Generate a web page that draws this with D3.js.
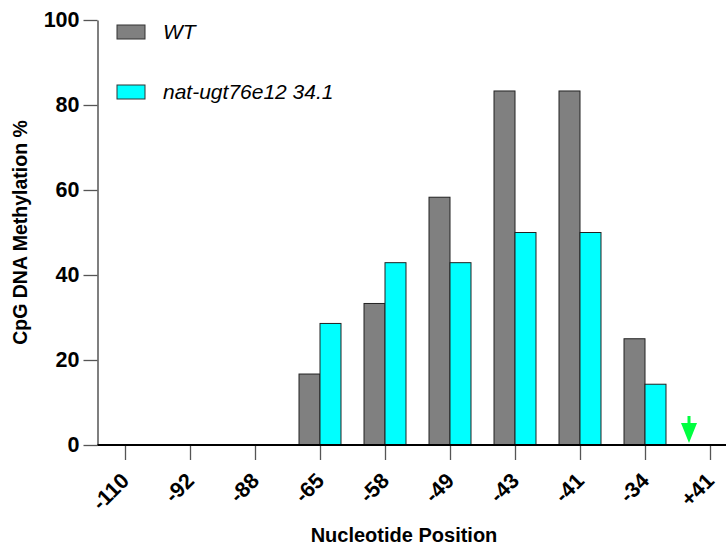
<!DOCTYPE html>
<html>
<head>
<meta charset="utf-8">
<script src="https://cdn.jsdelivr.net/npm/d3@7"></script>
<style>
  body { margin: 0; background: #fff; }
  text { font-family: Arial, "Liberation Sans", sans-serif; }
</style>
</head>
<body>
<svg></svg>
<script>
// categories + series
var positions = ["-110","-92","-88","-65","-58","-49","-43","-41","-34","+41"];
var wtValues = [0,0,0,16.7,33.3,58.3,83.3,83.3,25,0];
var mutValues = [0,0,0,28.6,42.9,42.9,50,50,14.3,0];
var seriesNames = ["WT","nat-ugt76e12 34.1"];
var seriesColors = ["#808080","#00ffff"];
var yTicks = [0,20,40,60,80,100];
var arrowAt = "+41";

var screen = { width: 726, height: 547 };

var svg = d3.select("svg")
            .attr("width", screen.width)
            .attr("height", screen.height);

var plot = { left: 97.5, top: 20, bottom: 445, firstTick: 125, lastTick: 710 };

var xScale = d3.scalePoint()
               .domain(positions)
               .range([plot.firstTick, plot.lastTick]);

var yScale = d3.scaleLinear()
               .domain([0,100])
               .range([plot.bottom, plot.top]);

var barW = xScale.step() * 0.323;

// bars
var rows = positions.map(function(p,i) {
  return [
    {pos: p, s: 0, value: wtValues[i]},
    {pos: p, s: 1, value: mutValues[i]}
  ];
});

svg.append("g")
   .selectAll("g")
   .data(rows)
   .enter()
   .append("g")
   .selectAll("rect")
   .data(function(d) { return d.filter(function(e) { return e.value > 0; }); })
   .enter()
   .append("rect")
   .attr("x", function(d) { return xScale(d.pos) + (d.s == 0 ? -barW : 0); })
   .attr("width", barW)
   .attr("y", function(d) { return yScale(d.value); })
   .attr("height", function(d) { return yScale(0) - yScale(d.value); })
   .attr("fill", function(d) { return seriesColors[d.s]; })
   .attr("stroke", "#222")
   .attr("stroke-width", 1);

// y axis
var yAxis = d3.axisLeft(yScale)
              .tickValues(yTicks)
              .tickSize(14)
              .tickSizeOuter(0)
              .tickPadding(4);

var gy = svg.append("g")
   .attr("transform", "translate(" + plot.left + ",0)")
   .call(yAxis);
gy.select(".domain").attr("stroke", "#555").attr("stroke-width", 1.5);
gy.selectAll(".tick line").attr("stroke", "#555").attr("stroke-width", 1.3);
gy.selectAll(".tick text")
  .attr("font-size", 21.5)
  .attr("font-weight", "bold")
  .attr("fill", "#000")
  .attr("font-family", "Arial, 'Liberation Sans', sans-serif");

// x axis
var xAxis = d3.axisBottom(xScale)
              .tickSize(15)
              .tickSizeOuter(0);

var gx = svg.append("g")
   .attr("transform", "translate(0," + plot.bottom + ")")
   .call(xAxis);
gx.select(".domain").remove();
gx.selectAll(".tick line").attr("stroke", "#555").attr("stroke-width", 1.3);
gx.selectAll(".tick text")
  .attr("font-size", 21.5)
  .attr("font-weight", "bold")
  .attr("fill", "#000")
  .attr("font-family", "Arial, 'Liberation Sans', sans-serif")
  .attr("text-anchor", "end")
  .attr("y", 0)
  .attr("dy", 0)
  .attr("transform", "translate(5,37) rotate(-45)");

gx.append("line")
  .attr("x1", plot.left)
  .attr("x2", screen.width)
  .attr("y1", 0)
  .attr("y2", 0)
  .attr("stroke", "#000")
  .attr("stroke-width", 2);

// axis titles
svg.append("text")
   .attr("transform", "translate(27," + (plot.top + plot.bottom) / 2 + ") rotate(-90)")
   .attr("text-anchor", "middle")
   .attr("font-size", 19.5)
   .attr("font-weight", "bold")
   .text("CpG DNA Methylation %");

svg.append("text")
   .attr("x", 404)
   .attr("y", 542)
   .attr("text-anchor", "middle")
   .attr("font-size", 20)
   .attr("font-weight", "bold")
   .text("Nucleotide Position");

// legend
var legend = svg.append("g")
   .selectAll("g")
   .data(seriesNames)
   .enter()
   .append("g")
   .attr("transform", function(d,i) { return "translate(117," + (25 + i * 60) + ")"; });

legend.append("rect")
   .attr("width", 28)
   .attr("height", 14)
   .attr("fill", function(d,i) { return seriesColors[i]; })
   .attr("stroke", "#333")
   .attr("stroke-width", 1);

legend.append("text")
   .attr("x", 46)
   .attr("y", 14)
   .attr("font-size", 21)
   .attr("font-style", "italic")
   .text(function(d) { return d; });

// green arrow marking +41
var ax = xScale(arrowAt) - barW;
var arrow = svg.append("g").attr("fill", "#00ff40");
arrow.append("rect")
     .attr("x", ax - 1.5)
     .attr("y", 416)
     .attr("width", 3)
     .attr("height", 9);
arrow.append("path")
     .attr("d", "M" + (ax - 8) + ",423L" + (ax + 8) + ",423L" + ax + ",443Z");
</script>
</body>
</html>
